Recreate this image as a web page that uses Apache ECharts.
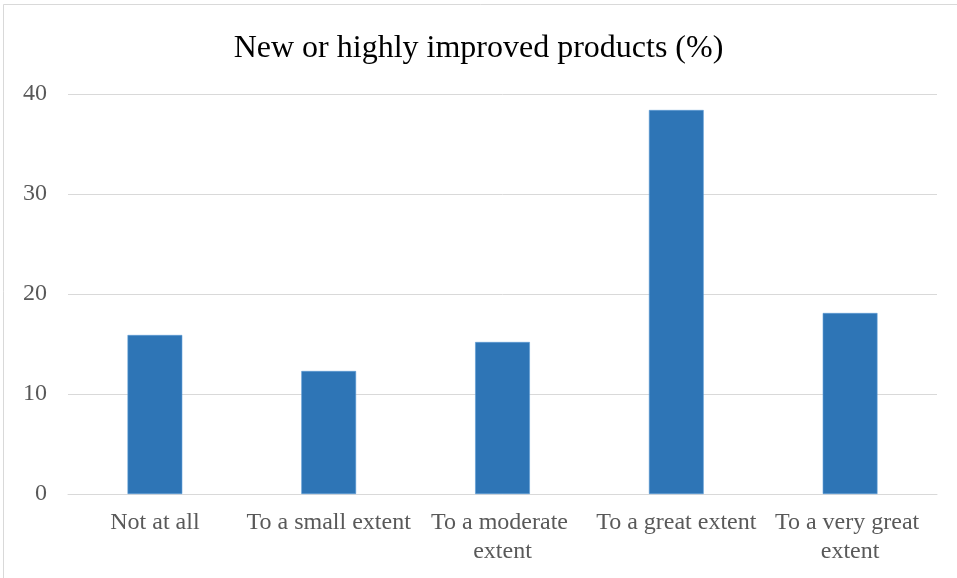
<!DOCTYPE html>
<html>
<head>
<meta charset="utf-8">
<script src="https://cdn.jsdelivr.net/npm/echarts@6/dist/echarts.min.js"></script>
<style>
  html, body { margin: 0; padding: 0; background: #fff; }
  #chart { width: 957px; height: 578px; }
</style>
</head>
<body>
<div id="chart"></div>
<script>
const categories = ['Not at all', 'To a small extent', 'To a moderate extent', 'To a great extent', 'To a very great extent'];
const shares = [15.9, 12.3, 15.2, 38.4, 18.1];
const yTicks = [0, 10, 20, 30, 40];

const chart = echarts.init(document.getElementById('chart'), null, { renderer: 'canvas' });
const serif = '"Liberation Serif", "Times New Roman", serif';

chart.setOption({
  animation: false,
  backgroundColor: '#ffffff',
  title: {
    text: 'New or highly improved products (%)',
    left: 'center',
    top: 28,
    textStyle: { fontFamily: serif, fontSize: 32, fontWeight: 'normal', color: '#000000' }
  },
  graphic: [{
    type: 'rect',
    shape: { x: 3.5, y: 4.5, width: 1000, height: 700 },
    style: { fill: 'none', stroke: '#d9d9d9', lineWidth: 1 },
    silent: true
  }],
  grid: { left: 68, right: 20, top: 94, bottom: 84, containLabel: false },
  xAxis: {
    type: 'category',
    data: categories,
    axisLine: { lineStyle: { color: '#d9d9d9', width: 1 } },
    axisTick: { show: false },
    axisLabel: {
      color: '#595959',
      fontFamily: serif,
      fontSize: 24,
      margin: 14,
      width: 172,
      overflow: 'break',
      lineHeight: 29,
      interval: 0
    }
  },
  yAxis: {
    type: 'value',
    min: yTicks[0],
    max: yTicks[yTicks.length - 1],
    interval: yTicks[1] - yTicks[0],
    axisLine: { show: false },
    axisTick: { show: false },
    splitLine: { lineStyle: { color: '#d9d9d9', width: 1 } },
    axisLabel: { color: '#595959', fontFamily: serif, fontSize: 24, margin: 21 }
  },
  series: [{
    type: 'bar',
    data: shares,
    barWidth: '31.5%',
    itemStyle: { color: '#2e75b6', borderColor: '#5b9bd5', borderWidth: 0.6 }
  }]
});
</script>
</body>
</html>
